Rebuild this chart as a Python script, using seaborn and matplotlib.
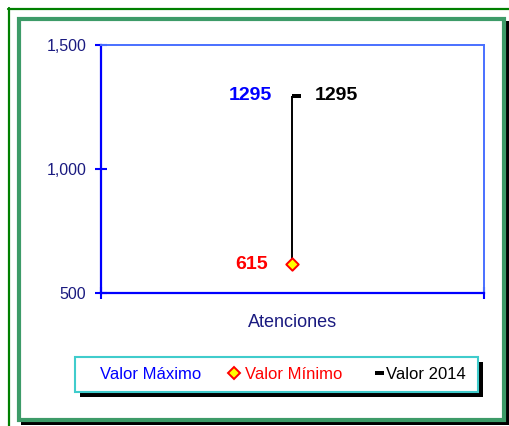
import numpy as np
import pandas as pd
import matplotlib
matplotlib.use("Agg")
import matplotlib.pyplot as plt
import seaborn as sns
from matplotlib.patches import Rectangle
from matplotlib.lines import Line2D
from matplotlib.path import Path
from matplotlib.ticker import StrMethodFormatter

# data
categories = ["Atenciones"]
valor_maximo = [1295]
valor_minimo = [615]
valor_2014 = [1295]
y_ticks = [500, 1000, 1500]
legend_labels = ["Valor Máximo", "Valor Mínimo", "Valor 2014"]

df = pd.DataFrame({
    "categoria": categories,
    "pos": np.arange(len(categories)),
    "maximo": valor_maximo,
    "minimo": valor_minimo,
    "v2014": valor_2014,
})

sns.set_style("white")
plt.rcParams["font.family"] = ["Liberation Sans", "DejaVu Sans"]

W, H = 510, 426
fig = plt.figure(figsize=(W / 100, H / 100), dpi=100)


def fx(x):
    return x / W


def fy(y):
    return 1 - y / H


# frames around the chart
fig.add_artist(Line2D([fx(9), fx(9)], [fy(8), fy(426)], color="#008000", lw=1.6, zorder=-3))
fig.add_artist(Line2D([fx(8), fx(510)], [fy(9), fy(9)], color="#008000", lw=1.6, zorder=-3))
fig.add_artist(Rectangle((fx(21), fy(425)), fx(488), 404 / H, facecolor="black",
                         edgecolor="none", zorder=-2))
fig.add_artist(Rectangle((fx(19), fy(420)), fx(485), 401 / H, facecolor="white",
                         edgecolor="#3D9B68", lw=3, zorder=-1))

ax = fig.add_axes([fx(101), fy(293), fx(383), 248 / H])
ax.set_facecolor("white")

# high-low line
ax.vlines(df["pos"], df["minimo"], df["maximo"], color="black", lw=1.4, zorder=2)

# minimum marker (diamond)
sns.scatterplot(data=df, x="pos", y="minimo", marker="D", s=40, color="#FFFF00",
                edgecolor="#FF0000", linewidth=1.4, ax=ax, zorder=3)

# 2014 value marker (dash to the right)
dash = Path([(0, -0.25), (1, -0.25), (1, 0.25), (0, 0.25), (0, -0.25)],
            [Path.MOVETO, Path.LINETO, Path.LINETO, Path.LINETO, Path.CLOSEPOLY])
ax.plot(df["pos"], df["v2014"], linestyle="none", marker=dash, markersize=13,
        color="black", mew=0, zorder=3)

# labels
for _, r in df.iterrows():
    ax.annotate(f"{r['maximo']}", (r["pos"], r["maximo"]), xytext=(-15, 0),
                textcoords="offset points", ha="right", va="center",
                color="#0000FF", fontsize=14, fontweight="bold")
    ax.annotate(f"{r['v2014']}", (r["pos"], r["v2014"]), xytext=(16, 0),
                textcoords="offset points", ha="left", va="center",
                color="black", fontsize=14, fontweight="bold")
    ax.annotate(f"{r['minimo']}", (r["pos"], r["minimo"]), xytext=(-18, 0),
                textcoords="offset points", ha="right", va="center",
                color="#FF0000", fontsize=14, fontweight="bold")

ax.set_xlim(-0.5, len(categories) - 0.5)
ax.set_ylim(y_ticks[0], y_ticks[-1])
ax.set_yticks(y_ticks)
ax.yaxis.set_major_formatter(StrMethodFormatter("{x:,.0f}"))
ax.set_xticks([-0.5, len(categories) - 0.5])
ax.set_xticklabels([])
ax.set_xticks(df["pos"], labels=categories, minor=True)
ax.set_xlabel("")
ax.set_ylabel("")

ax.tick_params(axis="y", which="major", left=True, direction="inout", length=9, width=1.5,
               color="#0000FF", labelcolor="#1A1A80", labelsize=11.5, pad=6)
ax.tick_params(axis="x", which="major", bottom=True, direction="inout", length=9, width=1.5,
               color="#0000FF")
ax.tick_params(axis="x", which="minor", bottom=True, length=0, pad=15, labelcolor="#1A1A80",
               labelsize=13)

for side in ["left", "bottom"]:
    ax.spines[side].set_color("#0000FF")
    ax.spines[side].set_linewidth(1.6)
for side in ["top", "right"]:
    ax.spines[side].set_color("#4A70FF")
    ax.spines[side].set_linewidth(1.4)

# legend box with shadow
fig.add_artist(Rectangle((fx(80), fy(397)), fx(403), 35 / H, facecolor="black",
                         edgecolor="none", zorder=4))
fig.add_artist(Rectangle((fx(75), fy(392)), fx(403), 35 / H, facecolor="white",
                         edgecolor="#40CCCC", lw=1.5, zorder=4.2))

handles = [
    Line2D([], [], linestyle="none"),
    Line2D([], [], linestyle="none", marker="D", markersize=6.5,
           markerfacecolor="#FFFF00", markeredgecolor="#FF0000", mew=1.4),
    Line2D([], [], linestyle="none", marker=dash, markersize=13, color="black", mew=0),
]
fig.legend(handles, legend_labels, loc="center left", bbox_to_anchor=(fx(82), fy(374.5)),
           ncol=3, frameon=False, fontsize=12, handlelength=0.75, handletextpad=0.3,
           columnspacing=1.6, borderpad=0, borderaxespad=0,
           labelcolor=["#0000FF", "#FF0000", "black"])

fig.savefig("out.png", dpi=100)
